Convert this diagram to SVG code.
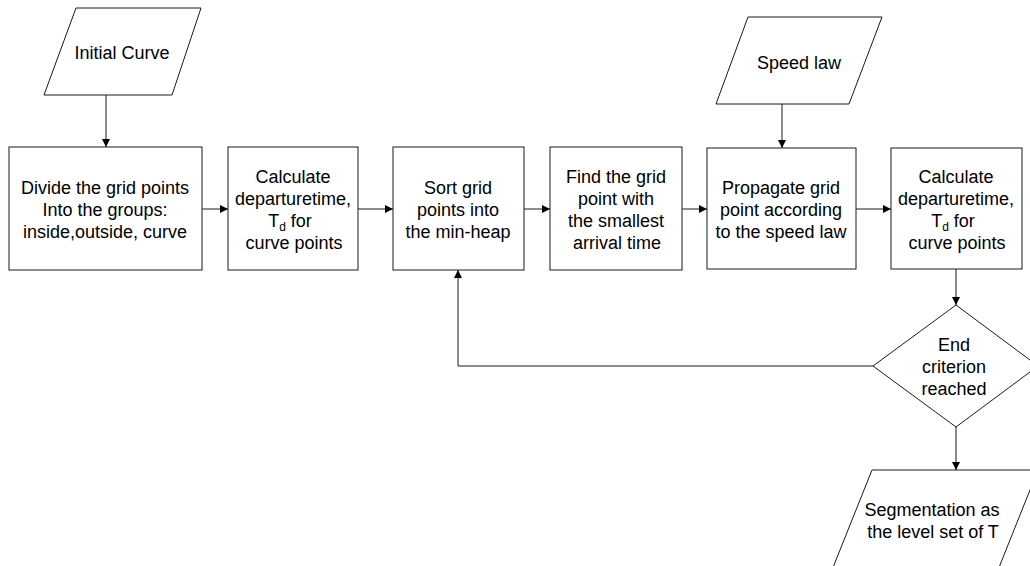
<svg xmlns="http://www.w3.org/2000/svg" width="1030" height="566" viewBox="0 0 1030 566">
  <style>
    .shape { fill: #ffffff; stroke: #1a1a1a; stroke-width: 1; }
    .wire { fill: none; stroke: #1a1a1a; stroke-width: 1; }
    text { font-family: "Liberation Sans", Arial, sans-serif; font-size: 18px; fill: #000; text-anchor: middle; }
    .sub { font-size: 12px; }
  </style>
  <defs>
    <marker id="arrow" viewBox="0 0 10 10" refX="10" refY="5" markerWidth="8" markerHeight="8" markerUnits="userSpaceOnUse" orient="auto">
      <path d="M0,0 L10,5 L0,10 Z" fill="#000"/>
    </marker>
  </defs>
  <rect width="1030" height="566" fill="#ffffff"/>

  <!-- connectors -->
  <g id="connectors">
    <line class="wire" x1="106" y1="95" x2="106" y2="147" marker-end="url(#arrow)"/>
    <line class="wire" x1="782" y1="104" x2="782" y2="148" marker-end="url(#arrow)"/>
    <line class="wire" x1="202" y1="209" x2="228" y2="209" marker-end="url(#arrow)"/>
    <line class="wire" x1="358" y1="209" x2="393" y2="209" marker-end="url(#arrow)"/>
    <line class="wire" x1="524" y1="209" x2="550" y2="209" marker-end="url(#arrow)"/>
    <line class="wire" x1="682" y1="209" x2="707" y2="209" marker-end="url(#arrow)"/>
    <line class="wire" x1="856" y1="209" x2="891" y2="209" marker-end="url(#arrow)"/>
    <line class="wire" x1="956" y1="269" x2="956" y2="305" marker-end="url(#arrow)"/>
    <polyline class="wire" points="873,366 458,366 458,270" marker-end="url(#arrow)"/>
    <line class="wire" x1="956" y1="427" x2="956" y2="470" marker-end="url(#arrow)"/>
  </g>

  <g id="initial-curve">
    <polygon class="shape" points="76,8 201,8 172,95 44,95"/>
    <text x="122" y="59">Initial Curve</text>
  </g>

  <g id="speed-law">
    <polygon class="shape" points="748,17 882,17 849,104 716,104"/>
    <text x="799" y="69">Speed law</text>
  </g>

  <g id="divide">
    <rect class="shape" x="9" y="147" width="193" height="123"/>
    <text x="105" y="194">Divide the grid points</text>
    <text x="105" y="216">Into the groups:</text>
    <text x="105" y="238">inside,outside, curve</text>
  </g>

  <g id="departure-1">
    <rect class="shape" x="228" y="147" width="130" height="123"/>
    <text x="293" y="183">Calculate</text>
    <text x="293" y="205">departuretime,</text>
    <text x="290" y="227">T<tspan class="sub" dy="4">d</tspan><tspan dy="-4"> for</tspan></text>
    <text x="294" y="249">curve points</text>
  </g>

  <g id="sort">
    <rect class="shape" x="393" y="147" width="131" height="123"/>
    <text x="458" y="194">Sort grid</text>
    <text x="458" y="216">points into</text>
    <text x="458" y="238">the min-heap</text>
  </g>

  <g id="find">
    <rect class="shape" x="550" y="147" width="132" height="123"/>
    <text x="616" y="183">Find the grid</text>
    <text x="616" y="205">point with</text>
    <text x="616" y="227">the smallest</text>
    <text x="617" y="249">arrival time</text>
  </g>

  <g id="propagate">
    <rect class="shape" x="707" y="148" width="149" height="121"/>
    <text x="781" y="194">Propagate grid</text>
    <text x="781" y="216">point according</text>
    <text x="781" y="238">to the speed law</text>
  </g>

  <g id="departure-2">
    <rect class="shape" x="891" y="148" width="131" height="121"/>
    <text x="956" y="183">Calculate</text>
    <text x="956" y="205">departuretime,</text>
    <text x="953" y="227">T<tspan class="sub" dy="4">d</tspan><tspan dy="-4"> for</tspan></text>
    <text x="957" y="249">curve points</text>
  </g>

  <g id="end-criterion">
    <polygon class="shape" points="956,305 1038,366 956,427 873,366"/>
    <text x="954" y="351">End</text>
    <text x="954" y="373">criterion</text>
    <text x="954" y="395">reached</text>
  </g>

  <g id="segmentation">
    <polygon class="shape" points="872,470 1038,470 992,585 826,585"/>
    <text x="932" y="516">Segmentation as</text>
    <text x="933" y="538">the level set of T</text>
  </g>
</svg>
